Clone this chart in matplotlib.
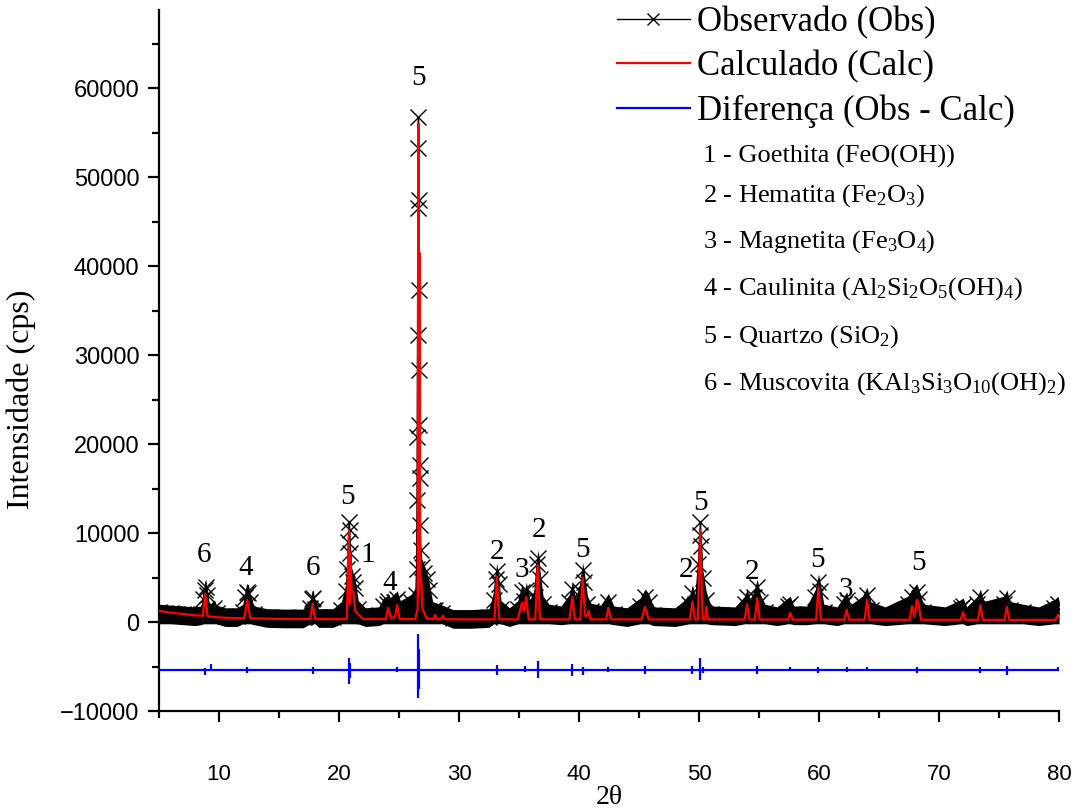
import numpy as np
import matplotlib
matplotlib.use('Agg')
import matplotlib.pyplot as plt
from matplotlib.lines import Line2D

plt.rcParams['mathtext.fontset'] = 'custom'
plt.rcParams['mathtext.rm'] = 'Liberation Serif'
plt.rcParams['mathtext.it'] = 'Liberation Serif:italic'

obs_x = [5.0, 5.5, 6.0, 6.5, 7.0, 7.5, 8.0, 8.5, 8.7, 8.8, 8.9, 9.0, 9.2, 9.6, 9.8, 10.5, 11.5,
         12.0, 12.2, 12.3, 12.45, 12.6, 12.9, 14.0, 15.5, 17.0, 17.6, 17.75, 17.85, 18.0, 18.3, 19.5,
         20.2, 20.6, 20.7, 20.78, 20.85, 20.9, 20.95, 21.05, 21.2, 21.35, 21.6, 22.2,
         23.3, 23.7, 24.0, 24.1, 24.3, 24.6, 24.85, 25.1, 25.5, 26.0, 26.4,
         26.46, 26.5, 26.52, 26.54, 26.56, 26.58, 26.62, 26.64, 26.66, 26.68, 26.7, 26.72, 26.74, 26.76, 26.8,
         26.9, 27.1, 27.3, 27.5, 27.8, 28.0, 28.6, 29.5, 31.0, 32.5,
         32.9, 33.05, 33.15, 33.3, 33.5, 34.2, 34.9, 35.25, 35.45, 35.6, 35.9,
         36.3, 36.5, 36.6, 36.75, 37.0, 37.5, 38.5, 39.2, 39.45, 39.7,
         40.1, 40.3, 40.45, 40.7, 41.0, 41.8, 42.45, 42.9, 44.0, 45.1, 45.5, 45.8, 46.2, 48.0,
         49.2, 49.45, 49.7, 49.95, 50.05, 50.12, 50.2, 50.3, 50.6, 51.0, 53.0,
         53.8, 54.0, 54.3, 54.6, 54.85, 55.1, 55.5, 56.5, 57.4, 57.6, 57.9, 59.0,
         59.7, 59.95, 60.1, 60.4, 61.5, 62.1, 62.3, 62.6, 63.6, 64.0, 64.3, 65.5,
         67.4, 67.75, 68.15, 68.35, 68.7, 70.5, 71.8, 72.0, 72.3, 73.2, 73.45, 73.7,
         75.4, 75.65, 75.9, 77.0, 78.3, 79.6, 79.9, 80.0]
obs_y = [1100, 1050, 1000, 950, 900, 850, 800, 900, 2600, 3600, 3900, 3000, 1000, 1600, 1000, 700, 700,
         1100, 2800, 3400, 3300, 2200, 900, 600, 550, 550, 1600, 2600, 2700, 1500, 600, 600,
         1400, 3500, 6000, 9000, 11200, 10300, 7800, 5200, 4500, 3800, 1500, 700,
         800, 1800, 2000, 2400, 1600, 2200, 2600, 1500, 1800, 2200, 3000,
         6000, 13700, 20800, 32250, 46500, 53260, 56740, 47420, 37300, 28310, 22130, 17640, 16180, 10900, 8100,
         6200, 5500, 4800, 3600, 1400, 1300, 1000, 500, 500, 600,
         2500, 4800, 5700, 4300, 1500, 700, 1500, 3400, 2400, 3600, 1600,
         2800, 6500, 7200, 4800, 2000, 1100, 900, 2200, 3700, 1800,
         3500, 5800, 4500, 2000, 1200, 1000, 2300, 900, 700, 1800, 2800, 2300, 800, 700,
         2000, 3300, 2000, 6500, 9800, 11200, 8500, 5000, 2500, 900, 800,
         2000, 2800, 1400, 2800, 3900, 2200, 1100, 800, 1800, 2000, 900, 900,
         2800, 4500, 3500, 1100, 800, 2000, 2500, 1000, 2000, 3000, 1400, 800,
         2000, 2800, 3400, 2600, 1100, 800, 1600, 1800, 800, 2000, 2800, 1400,
         2000, 2700, 1400, 1100, 800, 1600, 2000, 1500]

# calculated pattern
calc_x = [5.0, 6.0, 7.0, 8.0, 8.65, 8.85, 9.05, 10.0, 11.0,
          12.1, 12.35, 12.6, 15.0,
          17.6, 17.8, 18.0, 20.0,
          20.65, 20.82, 20.88, 20.93, 21.05, 21.2, 21.35, 22.0,
          23.9, 24.1, 24.3, 24.65, 24.85, 25.05,
          26.35, 26.55, 26.62, 26.66, 26.70, 26.76, 26.85, 26.95, 27.3,
          27.85, 28.0, 28.15, 28.5, 28.65, 28.8, 30.0,
          32.95, 33.15, 33.35, 34.9, 35.25, 35.4, 35.6, 35.8,
          36.35, 36.55, 36.75, 39.2, 39.45, 39.65,
          40.1, 40.3, 40.5, 40.7, 40.8, 40.95,
          42.25, 42.45, 42.65, 45.2, 45.5, 45.8,
          49.25, 49.45, 49.65, 49.9, 50.1, 50.3, 50.5, 50.6, 50.75,
          53.8, 54.0, 54.2, 54.65, 54.85, 55.05,
          57.4, 57.6, 57.8, 59.75, 59.95, 60.15,
          62.1, 62.3, 62.5, 63.8, 64.0, 64.2,
          67.55, 67.75, 67.95, 68.15, 68.3, 68.5,
          71.8, 72.0, 72.2, 73.25, 73.45, 73.65,
          75.45, 75.65, 75.85, 79.7, 79.9, 80.0]
calc_y = [1250, 1050, 900, 750, 700, 3200, 650, 520, 450,
          430, 2500, 420, 350,
          330, 2100, 330, 320,
          330, 10300, 2000, 7800, 3400, 3400, 1200, 350,
          330, 1600, 500, 500, 1900, 330,
          330, 1500, 56000, 3000, 41500, 5200, 4800, 1500, 400,
          320, 800, 320, 320, 700, 320, 300,
          300, 5100, 300, 300, 2200, 1200, 2800, 300,
          300, 6400, 300, 300, 2800, 300,
          300, 5000, 700, 700, 1300, 300,
          300, 1600, 300, 300, 1700, 290,
          290, 2300, 290, 300, 10300, 300, 290, 1700, 290,
          280, 2000, 280, 280, 2700, 280,
          280, 1000, 270, 270, 3900, 270,
          260, 1400, 260, 260, 2500, 260,
          250, 1800, 600, 2500, 2000, 250,
          250, 1100, 250, 250, 1900, 250,
          240, 1700, 240, 240, 800, 600]

# difference curve: offset baseline plus spikes
diff_base = -5400
spike_x = [8.85, 9.35, 12.35, 17.8, 20.85, 20.95, 24.85, 26.62, 26.7, 33.15,
           35.5, 36.55, 39.45, 40.3, 42.45, 45.5, 49.45, 50.1, 50.3, 54.85,
           57.6, 59.95, 62.3, 64.0, 68.15, 73.45, 75.65, 79.9]
spike_lo = [-6000, -5500, -5700, -5800, -7000, -6300, -5600, -8500, -7500, -6000,
            -5600, -6300, -6100, -5900, -5600, -5800, -5800, -6500, -5700, -5800,
            -5500, -5700, -5600, -5500, -5700, -5700, -5900, -5400]
spike_hi = [-5200, -4700, -5000, -5100, -4000, -4600, -5000, -1300, -3000, -4800,
            -4900, -4400, -4700, -5000, -5100, -4900, -4900, -4000, -5000, -4900,
            -5100, -5100, -5100, -5000, -5100, -5000, -4900, -5000]

# phase labels over the peaks
lab_x = [8.75, 12.25, 17.8, 20.7, 22.4, 24.2, 26.6, 33.2, 35.25, 36.7, 40.3, 48.9, 50.1, 54.4, 59.9, 62.25, 68.25]
lab_y = [7500, 6100, 6100, 14000, 7500, 4400, 61100, 7900, 5800, 10300, 8100, 5800, 13400, 5600, 7000, 3600, 6600]
lab_t = ['6', '4', '6', '5', '1', '4', '5', '2', '3', '2', '5', '2', '5', '2', '5', '3', '5']

phases = ['1 - Goethita (FeO(OH))',
          '2 - Hematita (Fe$_2$O$_3$)',
          '3 - Magnetita (Fe$_3$O$_4$)',
          '4 - Caulinita (Al$_2$Si$_2$O$_5$(OH)$_4$)',
          '5 - Quartzo (SiO$_2$)',
          '6 - Muscovita (KAl$_3$Si$_3$O$_{10}$(OH)$_2$)']
phase_base_px = [163, 202, 248, 295, 343, 390]

fig = plt.figure(figsize=(10.84, 8.10), dpi=100)
ax = fig.add_axes([0.1467, 0.1222, 0.8303, 0.8658])

# dense band of observed points (markers merge into a thick band), then the crosses
obs_arr = np.array(obs_y, dtype=float)
band_top = np.minimum(obs_arr, 8000) + 900
band_bot = np.minimum(obs_arr, 1000) - 1200
ax.fill_between(obs_x, band_bot, band_top, color='k', lw=0, zorder=2)
ax.plot(obs_x, obs_y, color='k', lw=1, marker='x', ms=12, mew=1.0, zorder=2.5)
ax.plot(calc_x, calc_y, color='#ff0000', lw=1.6, zorder=3)
ax.plot([5, 80], [diff_base, diff_base], color='#0000ff', lw=1.6, zorder=3)
ax.vlines(spike_x, spike_lo, spike_hi, color='#0000ff', lw=1.6, zorder=3)

for x, y, t in zip(lab_x, lab_y, lab_t):
    ax.text(x, y, t, ha='center', va='center', fontsize=21, family='Liberation Serif')

ax.set_xlim(5, 80)
ax.set_ylim(-10000, 68800)
ax.set_xticks(range(10, 81, 10))
ax.set_xticks(range(5, 81, 5), minor=True)
ax.set_yticks(range(-10000, 60001, 10000))
ax.set_yticks(range(-10000, 65001, 5000), minor=True)
ax.spines['top'].set_visible(False)
ax.spines['right'].set_visible(False)
for s in ['left', 'bottom']:
    ax.spines[s].set_linewidth(1.6)
ax.tick_params(which='major', direction='out', length=8, width=1.6, pad=6)
ax.tick_params(which='minor', direction='out', length=5, width=1.6)
for lab in ax.get_yticklabels():
    lab.set_fontfamily('Liberation Sans')
    lab.set_fontsize(17)
for lab in ax.get_xticklabels():
    lab.set_fontfamily('Liberation Sans')
    lab.set_fontsize(16)
ax.tick_params(axis='x', pad=30)

ax.set_ylabel('Intensidade (cps)', fontsize=23, family='Liberation Serif')
ax.yaxis.set_label_coords(-0.137, 0.444)
ax.set_xlabel('2θ', fontsize=20, family='Liberation Serif', labelpad=0)

handles = [Line2D([], [], color='k', lw=1, marker='x', ms=9, mew=1),
           Line2D([], [], color='#ff0000', lw=1.6),
           Line2D([], [], color='#0000ff', lw=1.6)]
fig.legend(handles, ['Observado (Obs)', 'Calculado (Calc)', 'Diferença (Obs - Calc)'],
           loc='upper left', bbox_to_anchor=(0.569, 0.993), frameon=False,
           prop={'family': 'Liberation Serif', 'size': 25}, handlelength=2.1,
           handletextpad=0.2, labelspacing=0.32, borderpad=0, borderaxespad=0,
           numpoints=1)

for txt, py in zip(phases, phase_base_px):
    fig.text(703 / 1084, 1 - py / 810, txt, ha='left', va='baseline',
             fontsize=19, family='Liberation Serif')

fig.savefig('out.png', dpi=100)
